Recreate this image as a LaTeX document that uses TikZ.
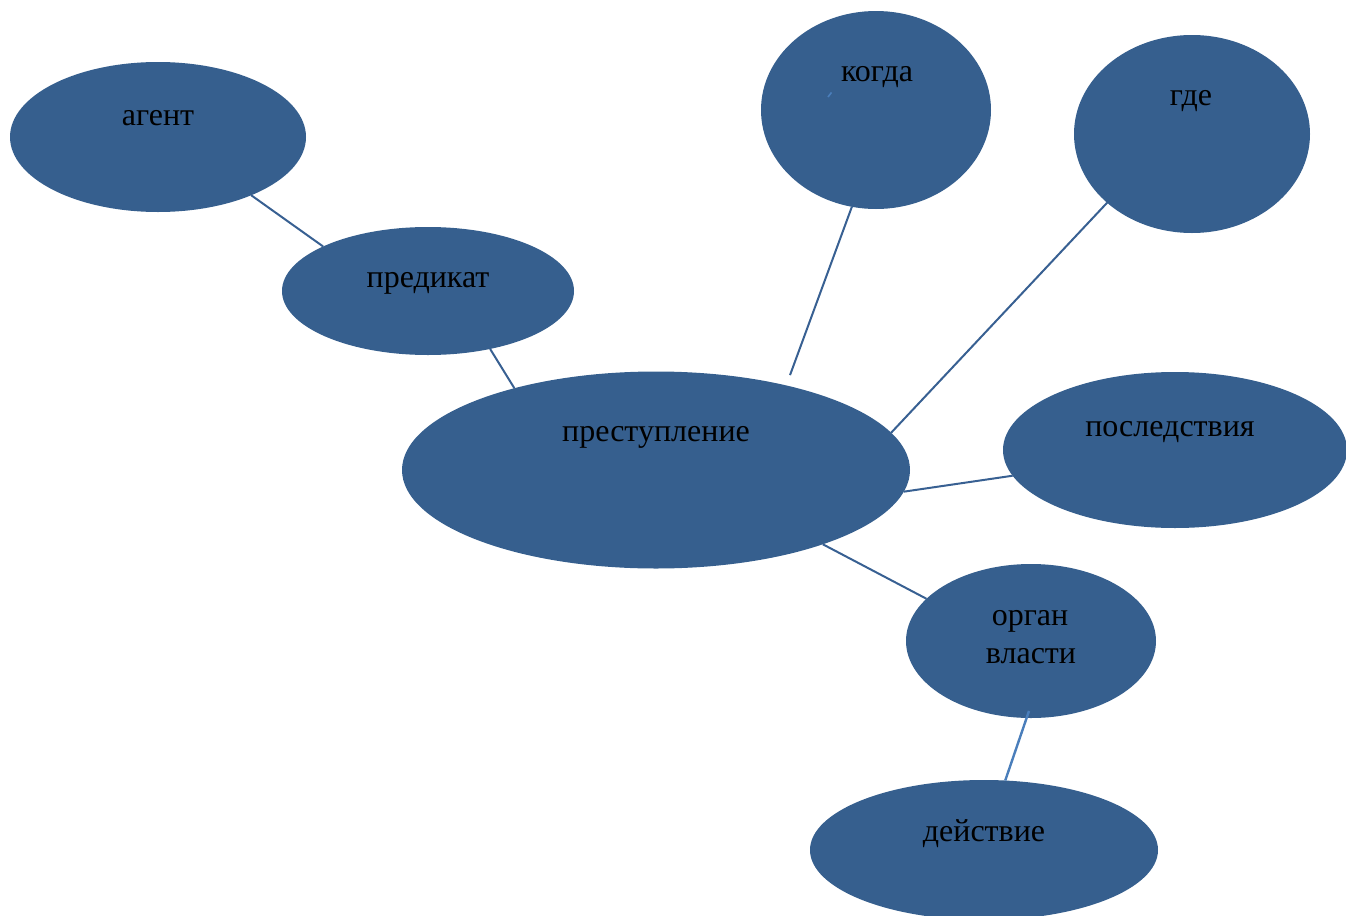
\documentclass[tikz,border=0pt]{standalone}
\usepackage{fontspec}
\setmainfont{Liberation Serif}
\definecolor{BlobBlue}{RGB}{54,95,142}
\definecolor{LinkBlue}{RGB}{56,96,146}
\definecolor{LinkLight}{RGB}{74,126,187}
\usetikzlibrary{
    shapes.geometric,
    backgrounds,
}
\tikzset{
    blob/.style={ellipse, fill=BlobBlue, inner sep=0pt, outer sep=0pt},
    word/.style={anchor=base, text=black, font=\fontsize{16}{19}\selectfont},
    link/.style={draw=LinkBlue, line width=1pt},
    linklight/.style={draw=LinkLight, line width=1.2pt},
}
\begin{document}
\begin{tikzpicture}[x=0.5pt, y=-0.5pt]
        \useasboundingbox (0,0) rectangle (1346,916);
        \clip (0,0) rectangle (1346,916);
        % ellipses
        \node[blob, minimum width=148pt, minimum height=75pt] (agent) at (158,137) {};
        \node[blob, minimum width=146pt, minimum height=64pt] (predicate) at (428,291) {};
        \node[blob, minimum width=254pt, minimum height=98.5pt] (crime) at (656,470) {};
        \node[blob, minimum width=115pt, minimum height=99pt] (when) at (876,110) {};
        \node[blob, minimum width=118pt, minimum height=99pt] (where) at (1192,134) {};
        \node[blob, minimum width=172pt, minimum height=78pt] (result) at (1175,450) {};
        \node[blob, minimum width=125pt, minimum height=77pt] (authority) at (1031,641) {};
        \node[blob, minimum width=174pt, minimum height=70pt] (action) at (984,850) {};
        % texts
        \node[word] (agentText) at (158,125) {агент};
        \node[word] (predicateText) at (428,287) {предикат};
        \node[word] (crimeText) at (656,441) {преступление};
        \node[word] (whenText) at (877,81) {когда};
        \node[word] (whereText) at (1191,105) {где};
        \node[word] (resultText) at (1170,436) {последствия};
        \node[word] (authorityText) at (1030,625) {орган};
        \node[word] (powerText) at (1031,663) {власти};
        \node[word] (actionText) at (984,841) {действие};
        % links
        \begin{scope}[on background layer]
            \draw[link] (agent.-32.7) -- (predicate.157);
            \draw[link] (predicate.-43.6) -- (crime.150.6);
            \draw[link, shorten >=5.5pt] (when.-104.6) -- (crime.33);
            \draw[link] (where.-141.7) -- (crime.9.5);
            \draw[link] (result.189.4) -- (crime.-5.5);
            \draw[link] (authority.158.7) -- (crime.-24.9);
        \end{scope}
        \coordinate (authorityFoot) at (1029,711);
        \draw[linklight] (authorityFoot) -- (action.73.3);
        \draw[linklight, line width=0.8pt] (828,97) -- (831.5,92.5);
\end{tikzpicture}
\end{document}
